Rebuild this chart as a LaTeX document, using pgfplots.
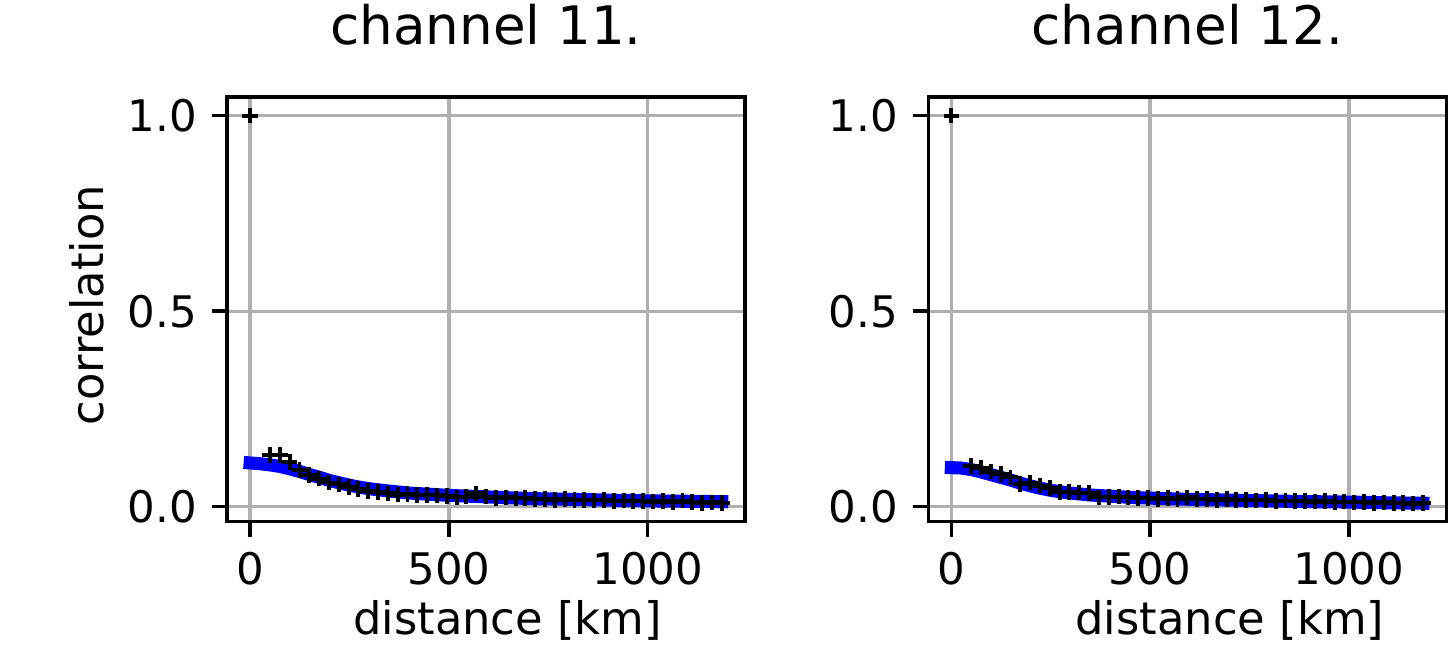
\documentclass[border=0pt]{standalone}
\usepackage{fontspec}
\setmainfont{DejaVu Sans}
\usepackage{pgfplots}
\usepackage{pgfplotstable}
\pgfplotsset{compat=1.18}
\definecolor{gridgray}{HTML}{B0B0B0}
\definecolor{fitblue}{HTML}{0000FF}

% empirical correlation per distance bin (markers)
\pgfplotstableread{
d      c11    c12
0      1.000  1.000
50.0   0.132  0.105
74.7   0.132  0.100
99.4   0.115  0.090
124.1  0.094  0.083
148.8  0.081  0.075
173.5  0.072  0.058
198.2  0.062  0.062
222.9  0.057  0.054
247.6  0.051  0.048
272.3  0.045  0.037
297.0  0.041  0.038
321.7  0.037  0.036
346.4  0.034  0.035
371.1  0.031  0.024
395.8  0.032  0.025
420.5  0.030  0.026
445.2  0.030  0.024
469.9  0.029  0.023
494.6  0.027  0.022
519.3  0.024  0.020
544.0  0.026  0.022
568.7  0.034  0.020
593.4  0.026  0.024
618.1  0.022  0.019
642.8  0.024  0.020
667.5  0.021  0.018
692.2  0.022  0.019
716.9  0.019  0.017
741.6  0.020  0.018
766.3  0.018  0.016
791.0  0.019  0.017
815.7  0.017  0.015
840.4  0.018  0.016
865.1  0.016  0.014
889.8  0.017  0.015
914.5  0.015  0.013
939.2  0.016  0.014
963.9  0.014  0.012
988.6  0.015  0.013
1013.3 0.013  0.011
1038.0 0.014  0.012
1062.7 0.012  0.010
1087.4 0.016  0.011
1112.1 0.012  0.009
1136.8 0.010  0.010
1161.5 0.011  0.008
1186.2 0.009  0.009
}\obs

% fitted curves (thick blue lines)
\pgfplotstableread{
d     f11    f12
0     0.112  0.100
25    0.110  0.099
50    0.107  0.095
75    0.103  0.089
100   0.097  0.082
125   0.090  0.075
150   0.082  0.068
175   0.075  0.060
200   0.067  0.053
225   0.061  0.047
250   0.055  0.042
275   0.050  0.038
300   0.046  0.035
350   0.040  0.030
400   0.035  0.027
450   0.032  0.024
500   0.029  0.022
600   0.025  0.019
700   0.021  0.017
800   0.019  0.015
900   0.017  0.013
1000  0.015  0.012
1100  0.014  0.010
1186  0.013  0.009
}\fit

\pgfplotsset{
  corrpanel/.style={
    scale only axis,
    width=119.1pt, height=97.6pt,
    anchor=south west,
    xmin=-58, xmax=1245,
    ymin=-0.0383, ymax=1.0473,
    xtick={0,500,1000}, ytick={0,0.5,1},
    grid=major,
    major grid style={draw=gridgray, line width=0.77pt},
    axis line style={line width=0.8pt},
    tick align=outside,
    major tick length=3.45pt,
    tick style={black, line width=0.8pt},
    xtick pos=bottom, ytick pos=left,
    /pgf/number format/assume math mode=true,
    /pgf/number format/1000 sep={},
    ticklabel style={font=\fontsize{10}{12}\selectfont},
    yticklabel style={/pgf/number format/.cd, fixed, fixed zerofill, precision=1},
    title style={at={(axis description cs:0.5,1)}, anchor=base, yshift=6.2pt,
                 inner sep=0pt, font=\fontsize{12.2}{14}\selectfont},
    label style={font=\fontsize{10.3}{12}\selectfont},
  },
}

\begin{document}
\begin{tikzpicture}
\begin{axis}[corrpanel,
  at={(52.2pt,29.26pt)},
  title={channel 11.},
  xlabel={distance [km]},
  ylabel={correlation},
  xlabel style={at={(axis description cs:0.5415,0)}, anchor=base, yshift=-26pt, inner sep=0pt},
  ylabel style={at={(axis description cs:0,0.51)}, anchor=center, yshift=32.2pt, inner sep=0pt},
]
\addplot[fitblue, line width=3pt, line cap=rect] table[x=d, y=f11] {\fit};
\addplot[only marks, mark=+, mark size=1.8pt, mark options={line width=0.9pt, black}] table[x=d, y=c11] {\obs};
\end{axis}

\begin{axis}[corrpanel,
  at={(213.4pt,29.26pt)},
  title={channel 12.},
  xlabel={distance [km]},
  xlabel style={at={(axis description cs:0.582,0)}, anchor=base, yshift=-26pt, inner sep=0pt},
]
\addplot[fitblue, line width=3pt, line cap=rect] table[x=d, y=f12] {\fit};
\addplot[only marks, mark=+, mark size=1.8pt, mark options={line width=0.9pt, black}] table[x=d, y=c12] {\obs};
\end{axis}

\pgfresetboundingbox
\path[use as bounding box] (0,0) rectangle (333.1pt,149.2pt);
\end{tikzpicture}
\end{document}
